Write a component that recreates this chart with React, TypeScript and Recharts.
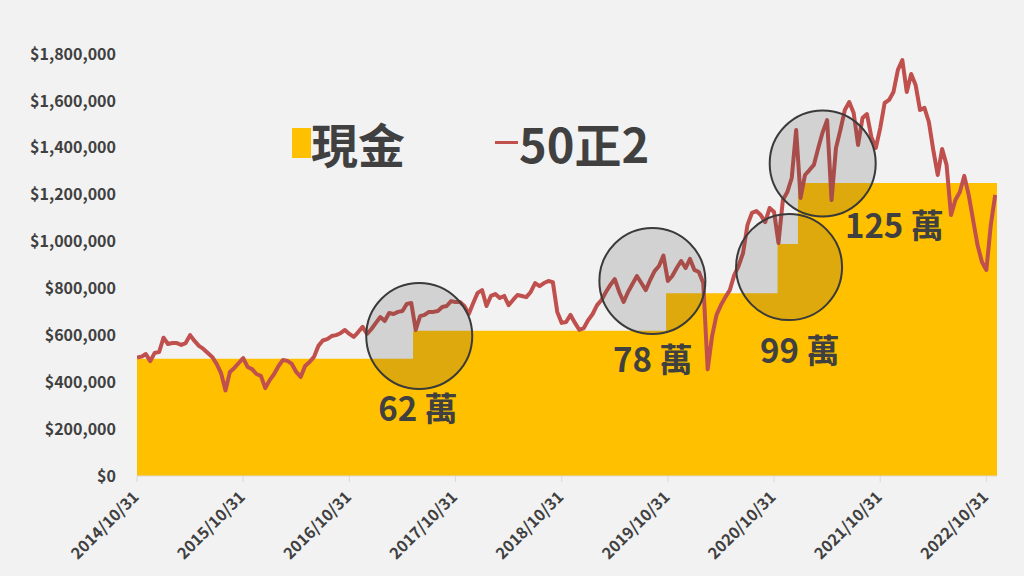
import { ComposedChart, Area, Line, XAxis, YAxis, ReferenceDot } from 'recharts';

// x axis = months after 2014/10/31
const tickDates = ['2014/10/31', '2015/10/31', '2016/10/31', '2017/10/31', '2018/10/31', '2019/10/31', '2020/10/31', '2021/10/31', '2022/10/31'];
const yTicks = [0, 200000, 400000, 600000, 800000, 1000000, 1200000, 1400000, 1600000, 1800000];

// 50正2 value, one reading every half month (thousands)
const fundY1 = [505, 509, 520, 490, 525, 529, 590, 563, 567, 567, 559, 567, 601, 576, 555, 542, 525, 508, 478, 439, 365, 444, 461, 482];
const fundY2 = [503, 465, 456, 435, 427, 375, 409, 435, 469, 495, 491, 478, 444, 422, 469, 486, 508, 555, 578, 584, 597, 601, 609, 623];
const fundY3 = [606, 593, 614, 636, 606, 627, 653, 678, 661, 695, 691, 700, 704, 734, 738, 623, 682, 687, 700, 700, 704, 721, 725, 746];
const fundY4 = [742, 742, 725, 691, 738, 781, 793, 725, 768, 776, 759, 768, 729, 751, 772, 768, 763, 785, 823, 810, 823, 832, 827, 700];
const fundY5 = [653, 657, 687, 653, 623, 631, 665, 691, 729, 751, 785, 815, 840, 785, 742, 785, 819, 853, 823, 793, 836, 874, 896, 940];
const fundY6 = [832, 853, 887, 917, 887, 926, 879, 870, 823, 455, 597, 687, 729, 763, 793, 857, 896, 951, 1071, 1122, 1130, 1113, 1083, 1143];
const fundY7 = [1126, 994, 1177, 1211, 1271, 1476, 1186, 1284, 1305, 1327, 1399, 1467, 1518, 1177, 1399, 1476, 1561, 1595, 1548, 1412, 1527, 1544, 1446, 1399];
const fundY8 = [1484, 1591, 1604, 1638, 1732, 1774, 1638, 1715, 1668, 1561, 1570, 1510, 1390, 1284, 1395, 1327, 1113, 1177, 1211, 1280, 1199, 1092, 985, 913];
const fundY9 = [879, 1071, 1199];

// cash steps
const cashMonth = [0, 31.2, 59.8, 72.4, 74.7, 97.2];
const cashAmount = [500000, 620000, 780000, 990000, 1250000, 1250000];

// circled spots and their labels
const notes = [
  { label: '62 萬', month: 31.9, value: 597000, textMonth: 31.75, textValue: 235000 },
  { label: '78 萬', month: 58.25, value: 832000, textMonth: 58.3, textValue: 444000 },
  { label: '99 萬', month: 73.7, value: 891000, textMonth: 74.9, textValue: 482000 },
  { label: '125 萬', month: 77.5, value: 1333000, textMonth: 85.6, textValue: 1015000 },
];

const fundData = [...fundY1, ...fundY2, ...fundY3, ...fundY4, ...fundY5, ...fundY6, ...fundY7, ...fundY8, ...fundY9]
  .map((v, i) => ({ t: i / 2, fund: v * 1000 }));
const cashData = cashMonth.map((t, i) => ({ t, cash: cashAmount[i] }));

const FONT = '"Noto Sans CJK TC", "Noto Sans", sans-serif';
const INK = '#404040';
const GOLD = '#FFC000';
const RED = '#C0504D';

const fmt = (v: number) => '$' + v.toLocaleString('en-US');

const DateTick = ({ x, y, payload }: any) => {
  const ax = x + 3;
  const ay = y + 14;
  return (
    <text x={ax} y={ay} transform={`rotate(-45 ${ax} ${ay})`} textAnchor="end"
      fill={INK} fontSize={16} fontWeight={700} fontFamily={FONT}>
      {tickDates[Math.round(payload.value / 12)]}
    </text>
  );
};

const NoteText = (label: string) => (p: any) => (
  <text x={p.cx} y={p.cy} textAnchor="middle" fill={INK} fontSize={33} fontWeight={700} fontFamily={FONT}>
    {label}
  </text>
);

const LegendBox = () => (
  <div style={{ position: 'absolute', left: 292, top: 119, display: 'flex', alignItems: 'center', fontFamily: FONT, fontWeight: 700, fontSize: 47, color: INK, lineHeight: 1 }}>
    <span style={{ width: 19, height: 30, background: GOLD }} />
    <span>現金</span>
    <span style={{ width: 23, height: 3, background: RED, marginLeft: 90, marginRight: 1 }} />
    <span>50正2</span>
  </div>
);

export default function App() {
  return (
    <div style={{ position: 'absolute', left: 0, top: 0, width: 1024, height: 576, background: '#f2f2f2' }}>
      <ComposedChart width={1024} height={576} margin={{ top: 54, right: 27, left: 0, bottom: 0 }}>
        <XAxis
          dataKey="t"
          type="number"
          domain={[0, 97.2]}
          ticks={[0, 12, 24, 36, 48, 60, 72, 84, 96]}
          tick={<DateTick />}
          height={100}
          axisLine={{ stroke: '#d9d9d9' }}
          tickLine={{ stroke: '#d9d9d9' }}
          interval={0}
          allowDataOverflow
        />
        <YAxis
          type="number"
          domain={[0, 1800000]}
          ticks={yTicks}
          tickFormatter={fmt}
          width={137}
          axisLine={false}
          tickLine={false}
          tickMargin={15}
          tick={{ fill: INK, fontSize: 16, fontWeight: 700, fontFamily: FONT }}
        />
        <Area
          data={cashData}
          dataKey="cash"
          name="現金"
          type="stepAfter"
          fill={GOLD}
          fillOpacity={1}
          stroke="none"
          isAnimationActive={false}
        />
        <Line
          data={fundData}
          dataKey="fund"
          name="50正2"
          type="linear"
          stroke={RED}
          strokeWidth={4}
          strokeLinejoin="round"
          dot={false}
          isAnimationActive={false}
        />
        {notes.map(n => (
          <ReferenceDot key={'c' + n.label} x={n.month} y={n.value} r={53}
            fill="#444444" fillOpacity={0.18} stroke="#3a3a3a" strokeWidth={2} />
        ))}
        {notes.map(n => (
          <ReferenceDot key={'t' + n.label} x={n.textMonth} y={n.textValue} r={1}
            shape={NoteText(n.label)} />
        ))}
      </ComposedChart>
      <LegendBox />
    </div>
  );
}
